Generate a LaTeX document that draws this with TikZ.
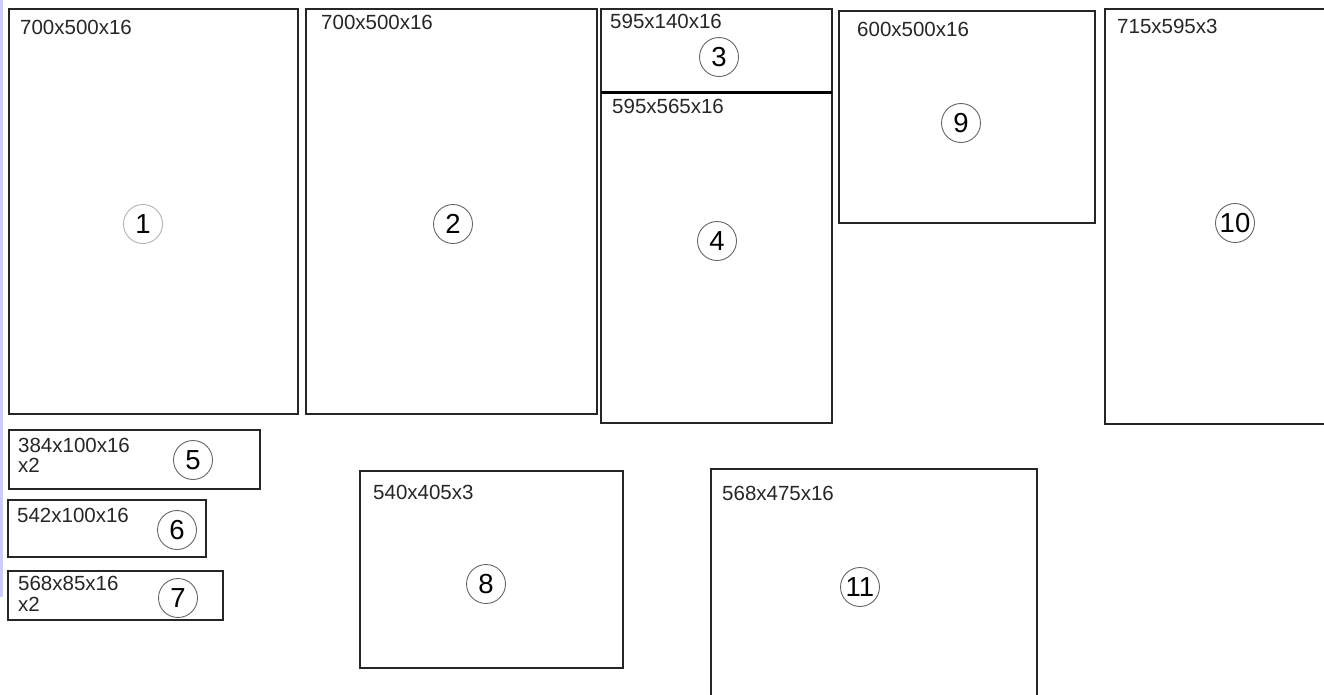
\documentclass[tikz,border=0pt]{standalone}
\usepackage{fontspec}
\setmainfont{Liberation Sans}
\begin{document}
\begin{tikzpicture}[x=1pt,y=-1pt,
  box/.style={draw=black!85,line width=1.6pt},
  lbl/.style={anchor=base west,inner sep=0pt,font=\fontsize{20.5}{23}\selectfont,text=black!85},
  num/.style={circle,draw=black!60,line width=0.9pt,minimum size=39pt,inner sep=0pt,font=\fontsize{27.5}{30}\selectfont}]
\useasboundingbox (0,0) rectangle (1324,694);
\clip (0,0) rectangle (1324,694);
\fill[white] (0,0) rectangle (1324,694);
\fill[blue!20] (0,0) rectangle (2.5,597);
% boxes
\draw[box] (9,9) rectangle (298,414);
\draw[box] (306,9) rectangle (597,414);
\draw[box] (601,9) rectangle (832,423);
\draw[line width=3pt] (601,92) -- (832,92);
\draw[box] (839,11) rectangle (1095,223);
\draw[box] (1105,9) rectangle (1330,424);
\draw[box] (9,430) rectangle (260,489);
\draw[box] (8,500) rectangle (206,557);
\draw[box] (8,571) rectangle (223,620);
\draw[box] (360,471) rectangle (623,668);
\draw[box] (711,469) rectangle (1037,700);
% labels
\node[lbl] (l1) at (20,34) {700x500x16};
\node[lbl] (l2) at (321,29) {700x500x16};
\node[lbl] (l3) at (610,28) {595x140x16};
\node[lbl] (l4) at (612,113) {595x565x16};
\node[lbl] (l9) at (857,36) {600x500x16};
\node[lbl] (l10) at (1117,33) {715x595x3};
\node[lbl] (l5a) at (18,452) {384x100x16};
\node[lbl] (l5b) at (18,472) {x2};
\node[lbl] (l6) at (17,522) {542x100x16};
\node[lbl] (l7a) at (18,590) {568x85x16};
\node[lbl] (l7b) at (18,611) {x2};
\node[lbl] (l8) at (373,499) {540x405x3};
\node[lbl] (l11) at (722,500) {568x475x16};
% circled numbers
\node[num,draw=black!30] (c1) at (143,224) {1};
\node[num] (c2) at (453,224) {2};
\node[num] (c3) at (719,57) {3};
\node[num] (c4) at (717,241) {4};
\node[num] (c5) at (193,460) {5};
\node[num] (c6) at (177,530) {6};
\node[num] (c7) at (178,598) {7};
\node[num] (c8) at (486,584) {8};
\node[num] (c9) at (961,123) {9};
\node[num] (c10) at (1235,223) {10};
\node[num] (c11) at (860,587) {11};
\end{tikzpicture}
\end{document}
